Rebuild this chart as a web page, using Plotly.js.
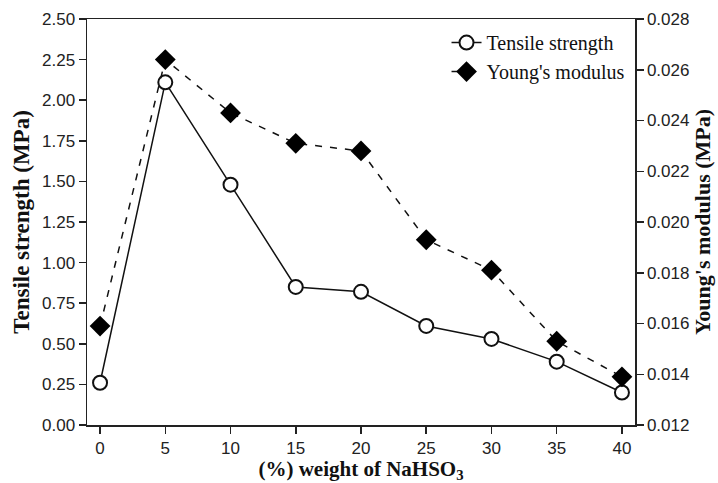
<!DOCTYPE html>
<html>
<head>
<meta charset="utf-8">
<script src="https://cdn.plot.ly/plotly-3.0.1.min.js"></script>
<style>html,body{margin:0;padding:0;background:#fff;}#chart{width:718px;height:483px;}</style>
</head>
<body>
<div id="chart"></div>
<script>
const weights = [0, 5, 10, 15, 20, 25, 30, 35, 40];
const tensileStrength = [0.26, 2.11, 1.48, 0.85, 0.82, 0.61, 0.53, 0.39, 0.20];
const youngsModulus = [0.0159, 0.0264, 0.0243, 0.0231, 0.0228, 0.0193, 0.0181, 0.0153, 0.0139];
const leftTicks = [0, 0.25, 0.5, 0.75, 1.0, 1.25, 1.5, 1.75, 2.0, 2.25, 2.5];
const rightTicks = [0.012, 0.014, 0.016, 0.018, 0.020, 0.022, 0.024, 0.026, 0.028];

const serif = 'Liberation Serif, Times New Roman, serif';
const sans = 'Liberation Sans, Arial, sans-serif';

const traces = [
  {
    x: weights, y: tensileStrength, name: 'Tensile strength', type: 'scatter', mode: 'lines+markers',
    line: {color: '#111', width: 1.5},
    marker: {symbol: 'circle', size: 14, color: '#fff', line: {color: '#111', width: 2}},
    yaxis: 'y'
  },
  {
    x: weights, y: youngsModulus, name: "Young's modulus", type: 'scatter', mode: 'lines+markers',
    line: {color: '#111', width: 1.5, dash: '7px,8px'},
    marker: {symbol: 'diamond', size: 16, color: '#000', line: {color: '#000', width: 0}},
    yaxis: 'y2'
  }
];

const layout = {
  width: 718, height: 483,
  margin: {l: 87, r: 83, t: 19, b: 58},
  paper_bgcolor: '#fff', plot_bgcolor: '#fff',
  showlegend: true,
  legend: {
    x: 0.99, y: 0.99, xanchor: 'right', yanchor: 'top',
    bgcolor: 'rgba(255,255,255,0)', borderwidth: 0,
    font: {family: serif, size: 20, color: '#111'},
    itemwidth: 30, tracegroupgap: 0
  },
  xaxis: {
    range: [-1, 41],
    tickvals: weights, ticktext: weights.map(String),
    ticks: 'outside', ticklen: 7, tickwidth: 1.5, tickcolor: '#222',
    showline: true, linecolor: '#222', linewidth: 1.5, mirror: true,
    showgrid: false, zeroline: false,
    tickfont: {family: sans, size: 17, color: '#222'},
    title: {text: '(%) weight of NaHSO<sub>3</sub>', font: {family: serif, size: 21, color: '#111', weight: 'bold'}, standoff: 6}
  },
  yaxis: {
    range: [0, 2.5],
    tickvals: leftTicks, ticktext: leftTicks.map(v => v.toFixed(2)),
    ticks: 'outside', ticklen: 7, tickwidth: 1.5, tickcolor: '#222',
    showline: true, linecolor: '#222', linewidth: 1.5,
    showgrid: false, zeroline: false,
    tickfont: {family: sans, size: 17, color: '#222'},
    title: {text: 'Tensile strength (MPa)', font: {family: serif, size: 23, color: '#111', weight: 'bold'}, standoff: 6}
  },
  yaxis2: {
    range: [0.012, 0.028], overlaying: 'y', side: 'right',
    tickvals: rightTicks, ticktext: rightTicks.map(v => v.toFixed(3)),
    ticks: 'outside', ticklen: 7, tickwidth: 1.5, tickcolor: '#222',
    showline: true, linecolor: '#222', linewidth: 1.5,
    showgrid: false, zeroline: false,
    tickfont: {family: sans, size: 17, color: '#222'},
    title: {text: "Young's modulus (MPa)", font: {family: serif, size: 22, color: '#111', weight: 'bold'}, standoff: 6}
  }
};

Plotly.newPlot('chart', traces, layout, {displayModeBar: false, staticPlot: true});
</script>
</body>
</html>
